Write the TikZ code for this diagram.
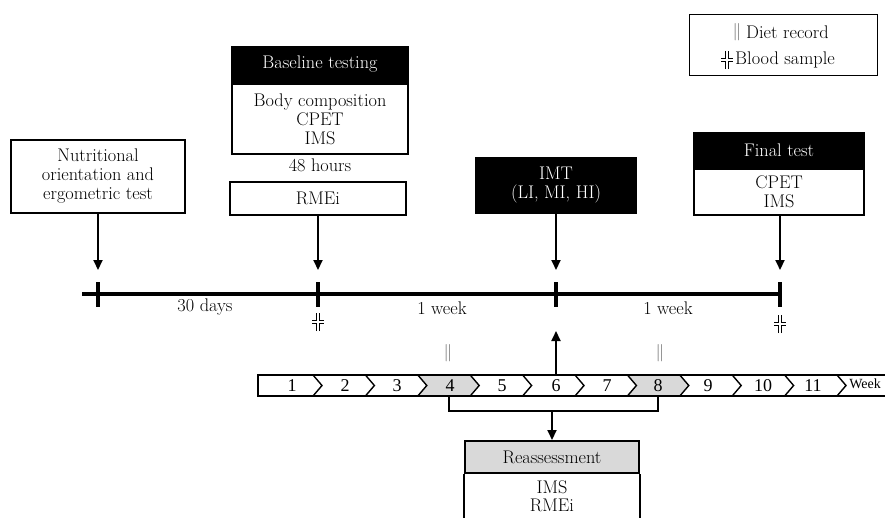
\documentclass[tikz,border=0pt]{standalone}
\usepackage{fontspec}
\newfontfamily\timesf{Liberation Serif}
\usetikzlibrary{arrows.meta}
\newcommand\ftx{\fontsize{18.3}{19}\selectfont}
\begin{document}
\begin{tikzpicture}[x=1pt,y=-1pt,
  frame/.style={draw=black, line width=2pt, inner sep=0pt, align=center, font=\ftx},
  blackhead/.style={frame, fill=black, text=white},
  arr/.style={line width=2pt, -{Triangle[length=10pt,width=9pt]}},
  tl/.style={line width=3.2pt},
  wkline/.style={line width=1.4pt},
  lbl/.style={font=\ftx, inner sep=0pt},
  dietmark/.style={font=\ftx, inner sep=0pt, text=black!60},
  num/.style={font=\timesf\fontsize{18}{20}\selectfont, inner sep=0pt},
  blood/.pic={\draw[line width=1.2pt] (-1.8,-9)--(-1.8,-1.8)--(-6,-1.8) (1.8,-9)--(1.8,-1.8)--(6,-1.8) (-1.8,9)--(-1.8,1.8)--(-6,1.8) (1.8,9)--(1.8,1.8)--(6,1.8);},
]
\useasboundingbox (0,0) rectangle (885,517);

% legend
\node[draw, line width=0.9pt, minimum width=188, minimum height=61, inner sep=0pt] (leg) at (783,44.5) {};
\node[dietmark] (drs) at (737,32) {$\|$};
\node[lbl, anchor=west] (dr) at (746,32) {Diet record};
\pic at (727,60) {blood};
\node[lbl, anchor=west] (bs) at (735,60) {Blood sample};

% boxes
\node[frame, minimum width=174, minimum height=73] (nut) at (98,176.5) {Nutritional\\orientation and\\ergometric test};

\node[blackhead, minimum width=176, minimum height=35] (bh) at (320,64.5) {Baseline testing};
\node[frame, minimum width=176, minimum height=70, anchor=north] (bb) at (bh.south) {Body composition\\CPET\\IMS};
\node[lbl] (h48) at (320,165) {48 hours};
\node[frame, minimum width=176, minimum height=33] (rm) at (318,198.5) {RMEi};

\node[blackhead, minimum width=160, minimum height=55] (imt) at (556,185.5) {IMT\\(LI, MI, HI)};

\node[blackhead, minimum width=170, minimum height=34] (fh) at (779,150) {Final test};
\node[frame, minimum width=170, minimum height=46, anchor=north] (fb) at (fh.south) {CPET\\IMS};

% timeline
\coordinate (T0) at (82,294);
\coordinate (T1) at (98,294);
\coordinate (T2) at (318,294);
\coordinate (T3) at (556,294);
\coordinate (T4) at (780,294);
\draw[tl] (T0) -- (T4);
\foreach \t in {T1,T2,T3,T4} \draw[tl] ([yshift=12pt]\t) -- ([yshift=-13pt]\t);
\coordinate (A1) at (98,270);
\coordinate (A2) at (318,270);
\coordinate (A3) at (556,270);
\coordinate (A4) at (780,270);
\draw[arr] (nut.south) -- (A1);
\draw[arr] (rm.south) -- (A2);
\draw[arr] (imt.south) -- (A3);
\draw[arr] (fb.south -| A4) -- (A4);

\node[lbl] (d30) at (205,307) {30 days};
\node[lbl] (wk1) at (442,308) {1 week};
\node[lbl] (wk2) at (668,308) {1 week};
\pic at (318,322) {blood};
\pic at (780,324) {blood};

\node[dietmark] (dm1) at (448,353) {$\|$};
\node[dietmark] (dm2) at (660,353) {$\|$};

% week bar
\fill[gray!30] (417.8,375) -- (470.2,375) -- (479.2,385.5) -- (470.2,396) -- (417.8,396) -- (426.8,385.5) -- cycle;
\fill[gray!30] (627.4,375) -- (679.8,375) -- (688.8,385.5) -- (679.8,396) -- (627.4,396) -- (636.4,385.5) -- cycle;
\draw[wkline] (886,375) -- (258,375) -- (258,396) -- (886,396);
\foreach \c in {313,365.4,417.8,470.2,522.6,575,627.4,679.8,732.2,784.6,837}
  \draw[wkline] (\c,375) -- (\c+9,385.5) -- (\c,396);
\foreach \n/\x in {1/292,2/345,3/397,4/450,5/502,6/556,7/607,8/658,9/708,10/763,11/813}
  \node[num] (w\n) at (\x,386) {\n};
\node[font=\timesf\fontsize{14}{16}\selectfont, inner sep=0pt] (wkl) at (865,384) {Week};

\coordinate (B4) at (449,396);
\coordinate (B8) at (658,396);
\coordinate (BM) at (552,411);
\coordinate (UP) at (556,375);
\coordinate (UT) at (556,331);
\draw[arr] (UP) -- (UT);
\draw[line width=2pt] (B4) -- (449,411) -- (658,411) -- (B8);

% reassessment
\node[frame, fill=gray!30, minimum width=174, minimum height=32] (rh) at (552,457) {Reassessment};
\draw[arr] (BM) -- (rh.north);
\draw[line width=2pt] (rh.south west) -- ([yshift=-50pt]rh.south west);
\draw[line width=2pt] (rh.south east) -- ([yshift=-50pt]rh.south east);
\node[lbl] (r1) at (552,487) {IMS};
\node[lbl] (r2) at (552,505) {RMEi};
\end{tikzpicture}
\end{document}
